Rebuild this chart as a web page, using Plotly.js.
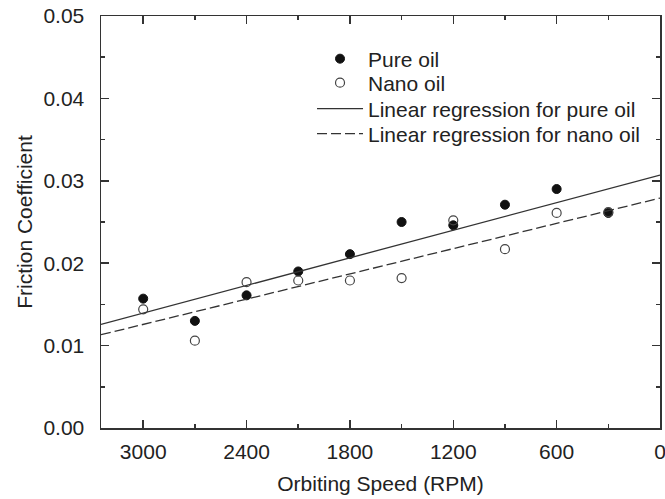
<!DOCTYPE html>
<html>
<head>
<meta charset="utf-8">
<script src="https://cdn.plot.ly/plotly-3.0.1.min.js"></script>
<style>html,body{margin:0;padding:0;background:#fff;}#chart{width:665px;height:499px;}</style>
</head>
<body>
<div id="chart"></div>
<script>
// Data
const speedRPM = [3000, 2700, 2400, 2100, 1800, 1500, 1200, 900, 600, 300];
const pureOil = [0.0157, 0.0130, 0.0161, 0.0190, 0.0211, 0.0250, 0.0246, 0.0271, 0.0290, 0.0261];
const nanoOil = [0.0144, 0.0106, 0.0177, 0.0179, 0.0179, 0.0182, 0.0252, 0.0217, 0.0261, 0.0262];
// Regression lines as drawn (end points)
const regSpeed = [3245, 0];
const regPure = [0.01258, 0.0307];
const regNano = [0.01132, 0.0279];

const font = {family: 'Liberation Sans, Arial, sans-serif', size: 21, color: '#222'};

const traces = [
  {x: speedRPM, y: pureOil, mode: 'markers', type: 'scatter', name: 'Pure oil', legend: 'legend',
   marker: {symbol: 'circle', size: 9, color: '#111', line: {color: '#111', width: 1}}},
  {x: speedRPM, y: nanoOil, mode: 'markers', type: 'scatter', name: 'Nano oil', legend: 'legend2',
   marker: {symbol: 'circle-open', size: 9, color: '#444', line: {color: '#444', width: 1.2}}},
  {x: regSpeed, y: regPure, mode: 'lines', type: 'scatter', name: 'Linear regression for pure oil', legend: 'legend3',
   line: {color: '#333', width: 1.3, dash: 'solid'}},
  {x: regSpeed, y: regNano, mode: 'lines', type: 'scatter', name: 'Linear regression for nano oil', legend: 'legend4',
   line: {color: '#333', width: 1.3, dash: '10px,4px'}}
];

const axisCommon = {
  showline: true, linecolor: '#333', linewidth: 1.5, mirror: 'allticks',
  ticks: 'inside', ticklen: 8, tickwidth: 1.5, tickcolor: '#333',
  showgrid: false, zeroline: false, tickfont: font
};

function leg(y) {
  return {x: 0.3775, y: y, xanchor: 'left', yanchor: 'middle', bgcolor: 'rgba(0,0,0,0)',
          font: font, itemwidth: 46, borderwidth: 0};
}

const layout = {
  width: 665, height: 499,
  margin: {l: 101, r: 5, t: 16, b: 71},
  paper_bgcolor: '#fff', plot_bgcolor: '#fff',
  font: font,
  showlegend: true,
  legend: leg(0.8956),
  legend2: leg(0.8374),
  legend3: leg(0.7743),
  legend4: leg(0.7136),
  xaxis: Object.assign({}, axisCommon, {
    range: [3245, 0], tick0: 0, dtick: 600, ticklabelstandoff: 4, ticklabeloverflow: 'allow',
    minor: {ticks: 'inside', ticklen: 4, dtick: 300, tick0: 0, tickcolor: '#333', tickwidth: 1.5, showgrid: false},
    title: {text: 'Orbiting Speed (RPM)', font: font, standoff: 14}
  }),
  yaxis: Object.assign({}, axisCommon, {
    range: [0, 0.05], tick0: 0, dtick: 0.01, tickformat: '.2f', ticklabelstandoff: 11,
    minor: {ticks: 'inside', ticklen: 4, dtick: 0.005, tick0: 0, tickcolor: '#333', tickwidth: 1.5, showgrid: false},
    title: {text: 'Friction Coefficient', font: font, standoff: 5}
  })
};

Plotly.newPlot('chart', traces, layout, {displayModeBar: false, staticPlot: true});
</script>
</body>
</html>
